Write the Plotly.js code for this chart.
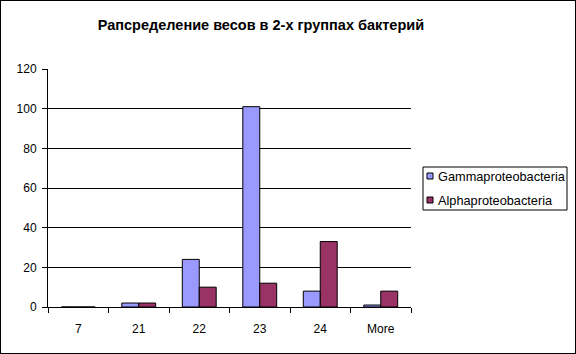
<!DOCTYPE html>
<html><head><meta charset="utf-8">
<script src="https://cdn.plot.ly/plotly-3.0.1.min.js"></script>
<style>body{margin:0;padding:0;}#wrap{position:relative;width:576px;height:354px;}#frame{position:absolute;left:0;top:0;width:576px;height:354px;box-sizing:border-box;border:1px solid #000;pointer-events:none;}</style>
</head><body>
<div id="wrap"><div id="chart" style="width:576px;height:354px;"></div><div id="frame"></div></div>
<script>
const categories = ["7", "21", "22", "23", "24", "More"];
const seriesNames = ["Gammaproteobacteria", "Alphaproteobacteria"];
const seriesColors = ["#9999FF", "#993366"];
const gammaValues = [0, 2, 24, 101, 8, 1];
const alphaValues = [0, 2, 10, 12, 33, 8];
const yTicks = [0, 20, 40, 60, 80, 100, 120];

const traces = [
  {type: 'bar', name: seriesNames[0], x: categories, y: gammaValues,
   marker: {color: seriesColors[0], line: {color: '#000', width: 1}}},
  {type: 'bar', name: seriesNames[1], x: categories, y: alphaValues,
   marker: {color: seriesColors[1], line: {color: '#000', width: 1}}}
];

// custom Excel-style legend (layout only)
const pw = 363, ph = 238, L = 48, B = 307;
const px = v => (v - L) / pw;
const py = v => (B - v) / ph;
const shapes = [
  {type: 'rect', xref: 'paper', yref: 'paper', x0: px(423), x1: px(567), y0: py(210), y1: py(167),
   line: {color: '#000', width: 1}, fillcolor: '#fff'}
];
const annotations = [];
const rowY = [176, 200];
seriesNames.forEach((n, i) => {
  shapes.push({type: 'rect', xref: 'paper', yref: 'paper', x0: px(427), x1: px(433), y0: py(rowY[i] + 3), y1: py(rowY[i] - 3),
    line: {color: '#000', width: 1}, fillcolor: seriesColors[i]});
  annotations.push({xref: 'paper', yref: 'paper', x: px(436), y: py(rowY[i]), xanchor: 'left', yanchor: 'middle',
    text: n, showarrow: false, font: {size: 12.75, color: '#000'}});
});

const layout = {
  width: 576, height: 354,
  margin: {l: 48, r: 165, t: 69, b: 47, autoexpand: false},
  paper_bgcolor: '#fff', plot_bgcolor: '#fff',
  font: {family: 'Arial, Liberation Sans, sans-serif', size: 12, color: '#000'},
  title: {text: 'Рапсределение весов в 2-х группах бактерий', x: 0.453, xref: 'container', xanchor: 'center', y: 0.929, yref: 'container', yanchor: 'middle',
          font: {family: 'Arial, Liberation Sans, sans-serif', size: 14.5, weight: 'bold', color: '#000'}},
  barmode: 'group', bargap: 0.44, bargroupgap: 0,
  xaxis: {type: 'category', showgrid: false, showline: true, linecolor: '#000', linewidth: 1,
          ticks: 'outside', ticklen: 5, tickcolor: '#000', tickson: 'boundaries', ticklabelstandoff: 11,
          tickfont: {size: 12}},
  yaxis: {range: [0, 120], tickvals: yTicks, showgrid: true, gridcolor: '#000', gridwidth: 1,
          showline: true, linecolor: '#000', linewidth: 1, ticks: 'outside', ticklen: 5, tickcolor: '#000',
          ticklabelstandoff: 3, zeroline: false, tickfont: {size: 12}},
  showlegend: false,
  shapes: shapes,
  annotations: annotations
};
Plotly.newPlot('chart', traces, layout, {staticPlot: true});
</script>
</body></html>
